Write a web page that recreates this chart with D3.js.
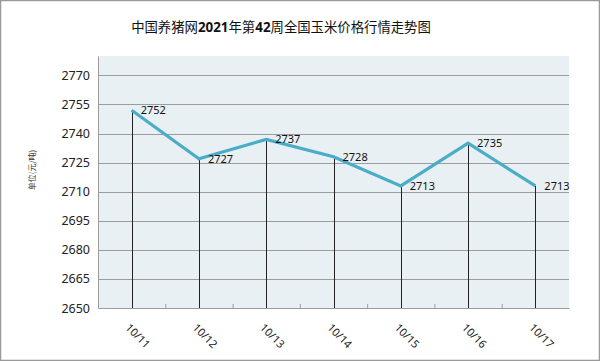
<!DOCTYPE html>
<html>
<head>
<meta charset="utf-8">
<script src="https://cdn.jsdelivr.net/npm/d3@7"></script>
<style>
  body { margin: 0; background: #fff; }
  svg { display: block; }
</style>
</head>
<body>
<svg id="chart" width="600" height="361"></svg>
<script>
// data
const dates = ['10/11', '10/12', '10/13', '10/14', '10/15', '10/16', '10/17']
const prices = [2752, 2727, 2737, 2728, 2713, 2735, 2713]
const yTicks = [2650, 2665, 2680, 2695, 2710, 2725, 2740, 2755, 2770]
const titleParts = ['中国养猪网', '2021', '年第', '42', '周全国玉米价格行情走势图']
const yLabel = '单位(元/吨)'

const width = 600, height = 361
const m = {left: 98, right: 31, top: 56, bottom: 53}
const svg = d3.select('#chart')

// frame
svg.append('rect')
    .attr('x', 0.5).attr('y', 0.5)
    .attr('width', width - 1).attr('height', height - 1)
    .attr('fill', '#fff').attr('stroke', '#9a9a9a').attr('stroke-width', 1.5)

const x = d3.scaleBand().domain(dates).range([m.left, width - m.right])
const y = d3.scaleLinear().domain([2650, 2780]).range([height - m.bottom, m.top])

// plot background
svg.append('rect')
    .attr('x', m.left).attr('y', m.top)
    .attr('width', width - m.left - m.right)
    .attr('height', height - m.top - m.bottom)
    .attr('fill', '#e9f0f4')

// horizontal grid
svg.append('g').selectAll('line')
    .data(yTicks.slice(1))
    .enter().append('line')
    .attr('x1', m.left).attr('x2', width - m.right)
    .attr('y1', d => Math.round(y(d)) + 0.5).attr('y2', d => Math.round(y(d)) + 0.5)
    .attr('stroke', '#9c9c9c').attr('stroke-width', 1.2)

// y axis
const yAxis = svg.append('g')
    .attr('transform', `translate(${m.left},0)`)
    .call(d3.axisLeft(y).tickValues(yTicks).tickFormat(d3.format('d')).tickSize(0).tickPadding(8))
yAxis.select('.domain').attr('stroke', '#9c9c9c')
yAxis.selectAll('text')
    .style('font', '12.5px "Noto Sans", sans-serif').attr('fill', '#222')

// x axis
const xAxis = svg.append('g')
    .attr('transform', `translate(0,${height - m.bottom})`)
    .call(d3.axisBottom(x).tickSize(0).tickPadding(0))
xAxis.select('.domain').attr('stroke', '#9c9c9c').attr('stroke-width', 1.2)
xAxis.selectAll('.tick text')
    .style('font', '11px "Noto Sans", sans-serif').attr('fill', '#222')
    .attr('text-anchor', 'middle')
    .attr('transform', 'translate(9,25) rotate(45)')

// small tick marks between categories
svg.append('g').selectAll('line')
    .data(dates.slice(1))
    .enter().append('line')
    .attr('x1', d => x(d) + 0.5).attr('x2', d => x(d) + 0.5)
    .attr('y1', height - m.bottom).attr('y2', height - m.bottom - 4)
    .attr('stroke', '#9c9c9c')

// drop lines
svg.append('g').selectAll('line')
    .data(prices)
    .enter().append('line')
    .attr('x1', (d, i) => Math.round(x(dates[i]) + x.bandwidth() / 2) + 0.5)
    .attr('x2', (d, i) => Math.round(x(dates[i]) + x.bandwidth() / 2) + 0.5)
    .attr('y1', d => y(d)).attr('y2', height - m.bottom)
    .attr('stroke', '#222').attr('stroke-width', 1)

// line
const line = d3.line()
    .x((d, i) => x(dates[i]) + x.bandwidth() / 2)
    .y(d => y(d))
svg.append('path')
    .datum(prices)
    .attr('d', line)
    .attr('fill', 'none').attr('stroke', '#4aacc6').attr('stroke-width', 3.2)
    .attr('stroke-linejoin', 'miter')

// value labels
svg.append('g').selectAll('text')
    .data(prices)
    .enter().append('text')
    .attr('x', (d, i) => x(dates[i]) + x.bandwidth() / 2 + 9)
    .attr('y', d => y(d) + 4)
    .style('font', '11px "Noto Sans", sans-serif').attr('fill', '#111')
    .text(d => d)

// title: chinese normal, digits bold
const t = svg.append('text')
    .attr('x', 281).attr('y', 32)
    .attr('text-anchor', 'middle')
    .style('font-size', '15px').attr('fill', '#111')
t.selectAll('tspan')
    .data(titleParts)
    .enter().append('tspan')
    .style('font-weight', (d, i) => i % 2 ? 'bold' : 'normal')
    .style('font-family', (d, i) => i % 2 ? '"Noto Sans", sans-serif' : '"Noto Sans CJK SC", sans-serif')
    .text(d => d)
// shrink to the reference's title width (~300px)
const tw = t.node().getComputedTextLength()
t.style('font-size', (15 * 300 / tw) + 'px')

// y label
svg.append('text')
    .attr('transform', 'translate(35,170) rotate(-90)')
    .attr('text-anchor', 'middle')
    .style('font', '8px "Noto Sans CJK SC", sans-serif').attr('fill', '#333')
    .text(yLabel)
</script>
</body>
</html>
